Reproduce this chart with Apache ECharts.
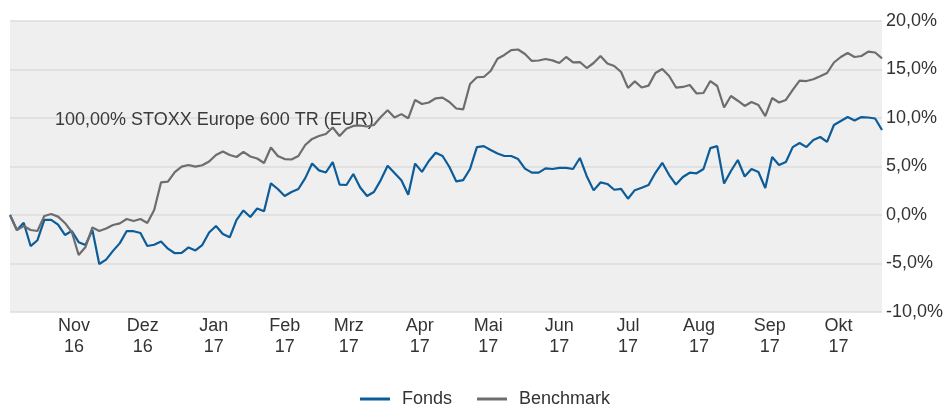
<!DOCTYPE html>
<html>
<head>
<meta charset="utf-8">
<script src="https://cdn.jsdelivr.net/npm/echarts@6/dist/echarts.min.js"></script>
<style>
  html, body { margin: 0; padding: 0; background: #ffffff; }
  #chart { width: 947px; height: 405px; }
</style>
</head>
<body>
<div id="chart"></div>
<script>
// Performance in % since 04.10.2016, one value every 3 calendar days
const startDate = '2016-10-04';
const endDate = '2017-10-20';
const stepDays = 3;

const fonds = [
  0.0, -1.55, -0.8, -3.2, -2.6, -0.5, -0.5, -1.0, -2.06, -1.65,
  -2.8, -3.1, -1.55, -5.05, -4.6, -3.7, -2.9, -1.65, -1.67, -1.86,
  -3.2, -3.07, -2.74, -3.47, -3.94, -3.9, -3.34, -3.65, -3.1, -1.8,
  -1.13, -1.95, -2.3, -0.5, 0.47, -0.2, 0.67, 0.39, 3.27, 2.68,
  1.96, 2.37, 2.68, 3.8, 5.3, 4.6, 4.38, 5.46, 3.14, 3.09,
  4.23, 2.84, 1.96, 2.37, 3.6, 5.08, 4.33, 3.58, 2.08, 5.3,
  4.45, 5.57, 6.41, 6.08, 4.95, 3.46, 3.6, 4.74, 7.0, 7.1,
  6.7, 6.34, 6.08, 6.08, 5.77, 4.78, 4.37, 4.37, 4.81, 4.74,
  4.85, 4.85, 4.74, 5.88, 4.0, 2.54, 3.36, 3.2, 2.6, 2.69,
  1.68, 2.56, 2.81, 3.09, 4.35, 5.38, 4.12, 3.14, 3.92, 4.36,
  4.3, 4.74, 6.9, 7.1, 3.25, 4.54, 5.67, 3.97, 4.74, 4.43,
  2.78, 5.98, 5.15, 5.46, 7.0, 7.42, 7.0, 7.73, 8.04, 7.53,
  9.28, 9.69, 10.1, 9.74, 10.1, 10.05, 9.95, 8.76
];

const benchmark = [
  0.0, -1.55, -1.13, -1.55, -1.65, -0.1, 0.1, -0.17, -0.82, -1.75,
  -4.12, -3.3, -1.28, -1.65, -1.39, -1.03, -0.86, -0.41, -0.62, -0.41,
  -0.82, 0.52, 3.37, 3.45, 4.43, 4.98, 5.15, 4.98, 5.13, 5.51,
  6.19, 6.54, 6.19, 5.98, 6.5, 6.03, 5.82, 5.36, 6.96, 6.08,
  5.77, 5.72, 6.08, 7.22, 7.84, 8.14, 8.35, 9.02, 8.14, 8.9,
  9.18, 9.23, 9.12, 9.28, 10.1, 10.8, 10.05, 10.4, 9.97, 11.86,
  11.44, 11.6, 12.03, 12.1, 11.65, 10.98, 10.88, 13.5, 14.2, 14.23,
  14.85, 16.1, 16.5, 17.0, 17.06, 16.6, 15.88, 15.93, 16.08, 15.94,
  15.67, 16.29, 15.73, 15.77, 15.15, 15.67, 16.4, 15.62, 15.36, 14.74,
  13.1, 13.78, 13.14, 13.34, 14.64, 15.05, 14.33, 13.14, 13.2, 13.4,
  12.53, 12.58, 13.81, 13.3, 11.08, 12.27, 11.78, 11.24, 11.65, 11.34,
  10.2, 12.06, 11.6, 11.86, 12.89, 13.85, 13.81, 13.99, 14.3, 14.64,
  15.72, 16.29, 16.7, 16.29, 16.39, 16.84, 16.75, 16.15
];

// Month ticks on the date axis
const tickDates = ['2016-11-01', '2016-12-01', '2017-01-01', '2017-02-01', '2017-03-01', '2017-04-01',
                   '2017-05-01', '2017-06-01', '2017-07-01', '2017-08-01', '2017-09-01', '2017-10-01'];
const tickMonths = ['Nov', 'Dez', 'Jan', 'Feb', 'Mrz', 'Apr', 'Mai', 'Jun', 'Jul', 'Aug', 'Sep', 'Okt'];
const tickYears = ['16', '16', '17', '17', '17', '17', '17', '17', '17', '17', '17', '17'];

const benchmarkNote = '100,00% STOXX Europe 600 TR (EUR)';

function toTime(s) {
  const p = s.split('-').map(Number);
  return Date.UTC(p[0], p[1] - 1, p[2]);
}
const DAY = 86400000;
const t0 = toTime(startDate);
const pairs = arr => arr.map((v, i) => [t0 + i * stepDays * DAY, v]);
const tickTimes = tickDates.map(toTime);

const textColor = '#333333';
const fontFamily = 'Liberation Sans, Arial, sans-serif';

const chart = echarts.init(document.getElementById('chart'), null, { renderer: 'canvas' });
chart.setOption({
  animation: false,
  textStyle: { fontFamily: fontFamily },
  grid: {
    left: 10, right: 65, top: 21, bottom: 93,
    show: true, backgroundColor: '#efefef', borderWidth: 0
  },
  legend: {
    left: 355, top: 385,
    icon: 'rect', itemWidth: 30, itemHeight: 3, itemGap: 25,
    textStyle: { color: textColor, fontSize: 18, fontFamily: fontFamily, padding: [0, 0, 0, 7] },
    data: ['Fonds', 'Benchmark']
  },
  graphic: [{
    type: 'text', left: 55, top: 111, z: 1,
    style: { text: benchmarkNote, fill: '#3a3a3a', font: '18px ' + fontFamily }
  }],
  xAxis: {
    type: 'value',
    min: t0, max: toTime(endDate),
    axisLine: { show: false },
    axisTick: { show: false },
    splitLine: { show: false },
    axisLabel: {
      customValues: tickTimes,
      showMinLabel: true, showMaxLabel: true,
      color: textColor, fontSize: 18, lineHeight: 21, margin: 4,
      formatter: function (v) {
        const k = tickTimes.indexOf(v);
        return k >= 0 ? tickMonths[k] + '\n' + tickYears[k] : '';
      }
    }
  },
  yAxis: {
    type: 'value', position: 'right',
    min: -10, max: 20, interval: 5,
    axisLine: { show: false },
    axisTick: { show: false },
    splitLine: { lineStyle: { color: '#dcdcdc', width: 1.5 } },
    axisLabel: {
      color: textColor, fontSize: 18, margin: 4,
      formatter: v => v.toFixed(1).replace('.', ',') + '%'
    }
  },
  series: [
    {
      name: 'Fonds', type: 'line', data: pairs(fonds),
      showSymbol: false, symbol: 'none',
      lineStyle: { color: '#0b5c99', width: 2.2 }, itemStyle: { color: '#0b5c99' }, z: 3
    },
    {
      name: 'Benchmark', type: 'line', data: pairs(benchmark),
      showSymbol: false, symbol: 'none',
      lineStyle: { color: '#6d6d6f', width: 2.2 }, itemStyle: { color: '#6d6d6f' }, z: 4
    }
  ]
});
</script>
</body>
</html>
